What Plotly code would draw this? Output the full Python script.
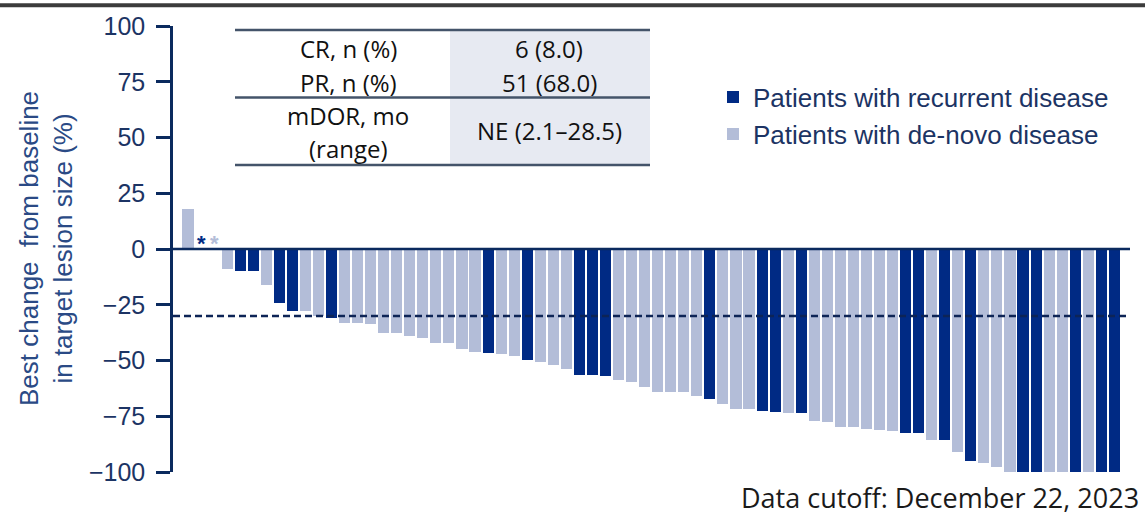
import plotly.graph_objects as go

# ---- data -------------------------------------------------------------
# best % change from baseline, ordered as in the waterfall
changes = [18, 0, 0, -9, -10, -10, -16, -24, -27.6, -27.6,
           -30, -31, -33, -33, -33.6, -37.6, -37.6, -39.2, -39.8, -42.2,
           -42.2, -45, -46, -46.6, -47.2, -47.8, -49.6, -50.8, -51.8, -53.6,
           -56.3, -56.3, -57, -58.8, -59.8, -62, -63.9, -63.9, -63.9, -66.1,
           -67.4, -69.5, -71.9, -71.9, -72.5, -73, -73.5, -73.6, -77.1, -77.6,
           -79.9, -79.9, -80.5, -81.1, -81.7, -82.6, -82.6, -85.5, -85.5, -91.1,
           -95.2, -95.9, -97.7, -100, -100, -100, -100, -100, -100, -100,
           -100, -100]
# R = recurrent disease, N = de-novo disease
groups = ["N", "R", "N", "N", "R", "R", "N", "R", "R", "N",
          "N", "R", "N", "N", "N", "N", "N", "N", "N", "N",
          "N", "N", "N", "R", "N", "N", "R", "N", "N", "N",
          "R", "R", "R", "N", "N", "N", "N", "N", "N", "N",
          "R", "N", "N", "N", "R", "R", "N", "R", "N", "N",
          "N", "N", "N", "N", "N", "R", "R", "N", "R", "N",
          "R", "N", "N", "N", "R", "R", "N", "N", "R", "N",
          "R", "R"]
series_names = {"R": "Patients with recurrent disease",
                "N": "Patients with de-novo disease"}
threshold = -30
y_ticks = [100, 75, 50, 25, 0, -25, -50, -75, -100]

table_left = ["CR, n (%)", "PR, n (%)", "mDOR, mo", "(range)"]
table_right = ["6 (8.0)", "51 (68.0)", "NE (2.1–28.5)"]

# ---- styles -----------------------------------------------------------
DARK = "#002a84"
LIGHT = "#b3bdd8"
NAVY = "#0b2a5e"
TXT = "#1c3464"
colors = {"R": DARK, "N": LIGHT}

W, H = 1145, 516
L, R, T, B = 173, 1130, 23, 472


def px(x):
    return (x - L) / (R - L)


def py(y):
    return (B - y) / (B - T)


fig = go.Figure()
for g in ["R", "N"]:
    xs = [i for i, gg in enumerate(groups) if gg == g]
    ys = [changes[i] for i in xs]
    fig.add_trace(go.Bar(x=xs, y=ys, name=series_names[g],
                         marker=dict(color=colors[g], line=dict(width=0)),
                         width=0.85))

# asterisks for zero-change patients
for i, v in enumerate(changes):
    if v == 0:
        fig.add_annotation(x=i, y=0, yanchor="bottom", yshift=-9, text="<b>*</b>",
                           showarrow=False,
                           font=dict(family="Liberation Sans", size=22,
                                     color=colors[groups[i]]))

shapes = []
# zero line & threshold
shapes.append(dict(type="line", xref="paper", yref="y", x0=0, x1=1, y0=0, y1=0,
                   line=dict(color=NAVY, width=2.5), layer="above"))
shapes.append(dict(type="line", xref="paper", yref="y", x0=0, x1=1,
                   y0=threshold, y1=threshold,
                   line=dict(color="#0d2456", width=2.5, dash="7px,4px"),
                   layer="above"))
# top strip
shapes.append(dict(type="rect", xref="paper", yref="paper", x0=px(0), x1=px(W),
                   y0=py(4), y1=py(0), fillcolor="#3c3c3c", line=dict(width=0)))
# table
shapes.append(dict(type="rect", xref="paper", yref="paper", x0=px(450), x1=px(650),
                   y0=py(163), y1=py(27), fillcolor="#e7eaf2", line=dict(width=0),
                   layer="below"))
for yy in [27, 95, 163]:
    shapes.append(dict(type="line", xref="paper", yref="paper", x0=px(235), x1=px(650),
                       y0=py(yy), y1=py(yy), line=dict(color="#44546a", width=2.5)))

TFONT = dict(family="Open Sans", size=24, color="#111111")
for txt, yy in zip(table_left, [46, 80, 113, 146]):
    fig.add_annotation(xref="paper", yref="paper", x=px(348), y=py(yy), text=txt,
                       showarrow=False, font=TFONT, xanchor="center", yanchor="middle")
for txt, yy in zip(table_right, [46, 80, 128]):
    fig.add_annotation(xref="paper", yref="paper", x=px(549), y=py(yy), text=txt,
                       showarrow=False, font=TFONT, xanchor="center", yanchor="middle")

# y title
fig.add_annotation(xref="paper", yref="paper", x=px(46), y=0.5,
                   text="Best change  from baseline<br>in target lesion size (%)",
                   textangle=-90, showarrow=False, xanchor="center", yanchor="middle",
                   font=dict(family="Liberation Sans", size=26, color="#2a4a85"))

# data cutoff
fig.add_annotation(xref="paper", yref="paper", x=px(1141), y=py(498),
                   text="Data cutoff: December 22, 2023", showarrow=False,
                   xanchor="right", yanchor="middle",
                   font=dict(family="Open Sans", size=27, color="#1a1a1a"))

fig.update_layout(
    width=W, height=H,
    margin=dict(l=L, r=W - R, t=T, b=H - B),
    plot_bgcolor="white", paper_bgcolor="white",
    barmode="overlay", bargap=0,
    shapes=shapes,
    showlegend=True,
    legend=dict(x=px(713), y=py(71), xanchor="left", yanchor="top",
                bgcolor="rgba(0,0,0,0)", itemwidth=30, traceorder="normal",
                font=dict(family="Liberation Sans", size=26, color=TXT),
                tracegroupgap=0),
    xaxis=dict(visible=False, range=[-1.15, len(changes) + 0.2]),
    yaxis=dict(range=[-100, 100], tickvals=y_ticks,
               ticktext=[str(v).replace("-", "\u2212") for v in y_ticks],
               ticks="outside", ticklen=14, tickwidth=2.5, tickcolor=NAVY,
               showline=True, linewidth=2.5, linecolor=NAVY, showgrid=False,
               zeroline=False, ticklabelstandoff=6,
               tickfont=dict(family="Liberation Sans", size=25, color=TXT)),
)

fig.write_html("out.html",
               config={"displayModeBar": False},
               post_script="document.body.style.margin='0';"
                           "document.body.style.overflow='hidden';")
